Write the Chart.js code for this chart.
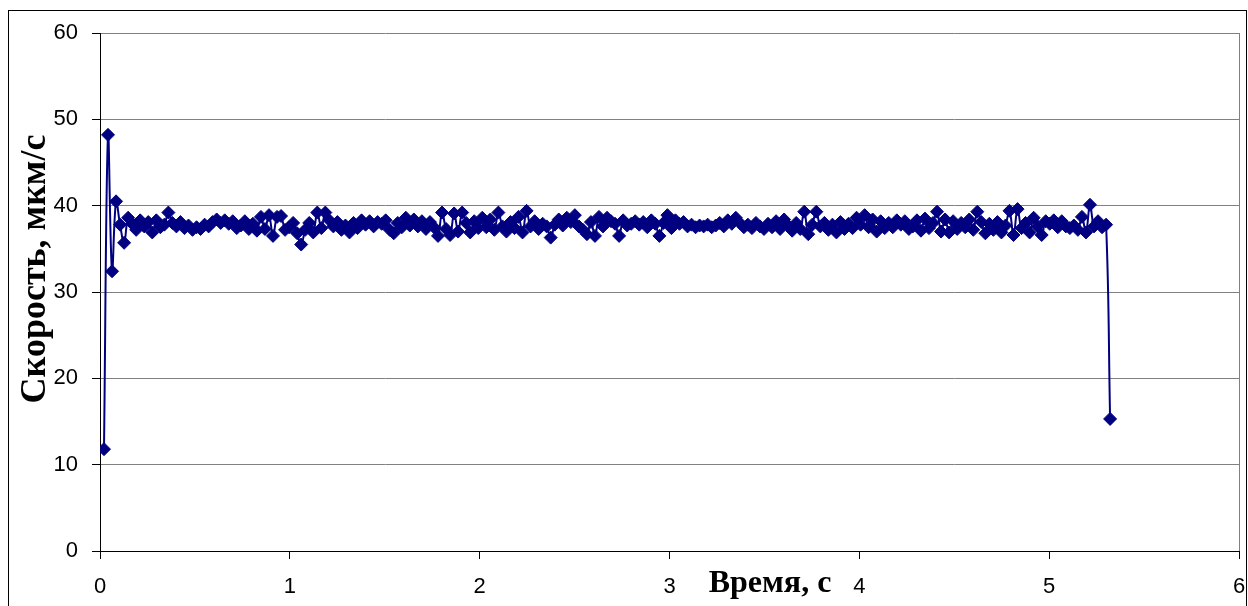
<!DOCTYPE html>
<html>
<head>
<meta charset="utf-8">
<script src="https://cdn.jsdelivr.net/npm/chart.js@4"></script>
<style>
  body { margin: 0; background: #fff; }
  #wrap { width: 1248px; height: 606px; }
</style>
</head>
<body>
<div id="wrap"><canvas id="speedChart" width="1248" height="606"></canvas></div>
<script>
// время первого отсчёта и шаг записи, с
const t0 = 0.021;
const dt = 0.0212;

// скорость, мкм/с
const speeds = [
  11.8, 48.2, 32.4, 40.5, 37.8, 35.7,
  38.6, 37.9, 37.2, 38.3, 37.6, 38.1, 36.9, 38.3, 37.5, 37.8,
  39.2, 38.0, 37.6, 38.1, 37.4, 37.7, 37.2, 37.5, 37.3, 37.8,
  37.6, 38.1, 38.4, 38.0, 38.3, 37.9, 38.2, 37.4, 37.7, 38.2,
  37.3, 37.9, 37.1, 38.7, 37.3, 38.9, 36.5, 38.7, 38.8, 37.2,
  37.5, 38.0, 36.8, 35.5, 37.2, 38.0, 36.9, 39.2, 37.4, 39.2,
  38.3, 37.6, 38.1, 37.2, 37.7, 36.9, 38.0, 37.4, 38.3, 37.8,
  38.2, 37.6, 38.1, 37.9, 38.3, 37.2, 36.8, 38.0, 37.5, 38.6,
  37.7, 38.4, 37.6, 38.2, 37.3, 38.1, 37.5, 36.5, 39.2, 37.3,
  36.6, 39.1, 37.0, 39.2, 38.0, 36.9, 38.2, 37.4, 38.6, 37.5,
  38.4, 37.2, 39.2, 37.6, 37.0, 38.1, 37.4, 38.7, 36.9, 39.4,
  37.6, 38.2, 37.3, 37.9, 37.6, 36.3, 37.8, 38.4, 37.7, 38.6,
  38.1, 38.9, 37.6, 37.2, 36.7, 38.1, 36.5, 38.7, 37.6, 38.6,
  38.2, 37.9, 36.5, 38.3, 37.7, 37.9, 38.2, 37.8, 38.1, 37.5,
  38.3, 37.9, 36.5, 38.0, 38.9, 37.4, 38.3, 37.9, 38.1, 37.6,
  37.8, 37.5, 37.7, 37.6, 37.8, 37.5, 37.7, 38.0, 37.6, 38.3,
  37.9, 38.6, 38.0, 37.5, 37.8, 37.4, 38.0, 37.6, 37.3, 37.9,
  37.5, 38.2, 37.3, 38.4, 37.7, 37.1, 38.0, 37.3, 39.3, 36.7,
  37.8, 39.3, 37.6, 38.0, 37.2, 37.8, 36.9, 38.1, 37.3, 37.9,
  37.4, 38.6, 37.8, 38.9, 37.5, 38.4, 37.0, 38.2, 37.4, 38.0,
  37.5, 38.3, 37.8, 38.2, 37.3, 37.6, 38.3, 37.1, 38.5, 37.4,
  38.0, 39.3, 37.0, 38.4, 36.9, 38.2, 37.3, 38.0, 37.5, 38.4,
  37.2, 39.3, 38.1, 36.8, 37.9, 37.2, 38.1, 36.9, 37.7, 39.4,
  36.6, 39.6, 37.4, 38.0, 36.9, 38.6, 37.6, 36.6, 38.2, 37.9,
  38.3, 37.5, 38.2, 37.6, 37.4, 37.7, 37.2, 38.7, 36.9, 40.1,
  37.6, 38.2, 37.5, 37.8, 15.3
];

const xTicks = [0, 1, 2, 3, 4, 5, 6];
const yTicks = [0, 10, 20, 30, 40, 50, 60];

const yTitle = 'Скорость, мкм/с';
const xTitle = 'Время, с';

const points = speeds.map((v, i) => ({ x: t0 + i * dt, y: v }));

// рамка, правая граница области построения и подписи осей
const decor = {
  id: 'decor',
  afterDraw(chart) {
    const ctx = chart.ctx;
    const area = chart.chartArea;
    ctx.save();
    ctx.strokeStyle = '#000';
    ctx.lineWidth = 1;
    ctx.strokeRect(8.5, 10.5, 1238, 620);

    ctx.strokeStyle = '#808080';
    ctx.beginPath();
    ctx.moveTo(area.right + 0.5, area.top);
    ctx.lineTo(area.right + 0.5, area.bottom);
    ctx.stroke();

    ctx.fillStyle = '#000';
    ctx.textAlign = 'center';
    ctx.textBaseline = 'middle';
    ctx.font = 'bold 36px "Liberation Serif", "Times New Roman", serif';
    ctx.translate(36, 269);
    ctx.rotate(-Math.PI / 2);
    ctx.fillText(yTitle, 0, 0);
    ctx.restore();

    ctx.save();
    ctx.fillStyle = '#000';
    ctx.textAlign = 'center';
    ctx.textBaseline = 'middle';
    ctx.font = 'bold 32px "Liberation Serif", "Times New Roman", serif';
    ctx.fillText(xTitle, 770, 584);
    ctx.restore();
  }
};

new Chart(document.getElementById('speedChart'), {
  type: 'scatter',
  data: {
    datasets: [{
      data: points,
      showLine: true,
      tension: 0.4,
      borderColor: '#000080',
      backgroundColor: '#000080',
      borderWidth: 2,
      pointStyle: 'rectRot',
      pointRadius: 6.5,
      pointBorderWidth: 1,
      pointHoverRadius: 6.5
    }]
  },
  plugins: [decor],
  options: {
    responsive: false,
    animation: false,
    devicePixelRatio: 1,
    layout: { padding: { left: 0, top: 33, right: 9, bottom: 0 } },
    plugins: {
      legend: { display: false },
      tooltip: { enabled: false }
    },
    scales: {
      x: {
        type: 'linear',
        min: 0,
        max: 6,
        afterFit: s => {
          s.height = 55;
          s.paddingLeft = 0;
          s.paddingRight = 0;
        },
        afterBuildTicks: s => { s.ticks = xTicks.map(v => ({ value: v })); },
        grid: { drawOnChartArea: false, tickLength: 8, tickColor: '#000' },
        border: { color: '#000', width: 1 },
        ticks: {
          color: '#000',
          padding: 15,
          maxRotation: 0,
          font: { family: '"Liberation Sans", Arial, sans-serif', size: 22 }
        }
      },
      y: {
        min: 0,
        max: 60,
        afterFit: s => {
          s.width = 100;
          s.paddingTop = 0;
          s.paddingBottom = 0;
        },
        afterBuildTicks: s => { s.ticks = yTicks.map(v => ({ value: v })); },
        grid: { color: '#808080', tickLength: 8, tickColor: '#000' },
        border: { color: '#000', width: 1 },
        ticks: {
          color: '#000',
          padding: 14,
          font: { family: '"Liberation Sans", Arial, sans-serif', size: 22 }
        }
      }
    }
  }
});
</script>
</body>
</html>
